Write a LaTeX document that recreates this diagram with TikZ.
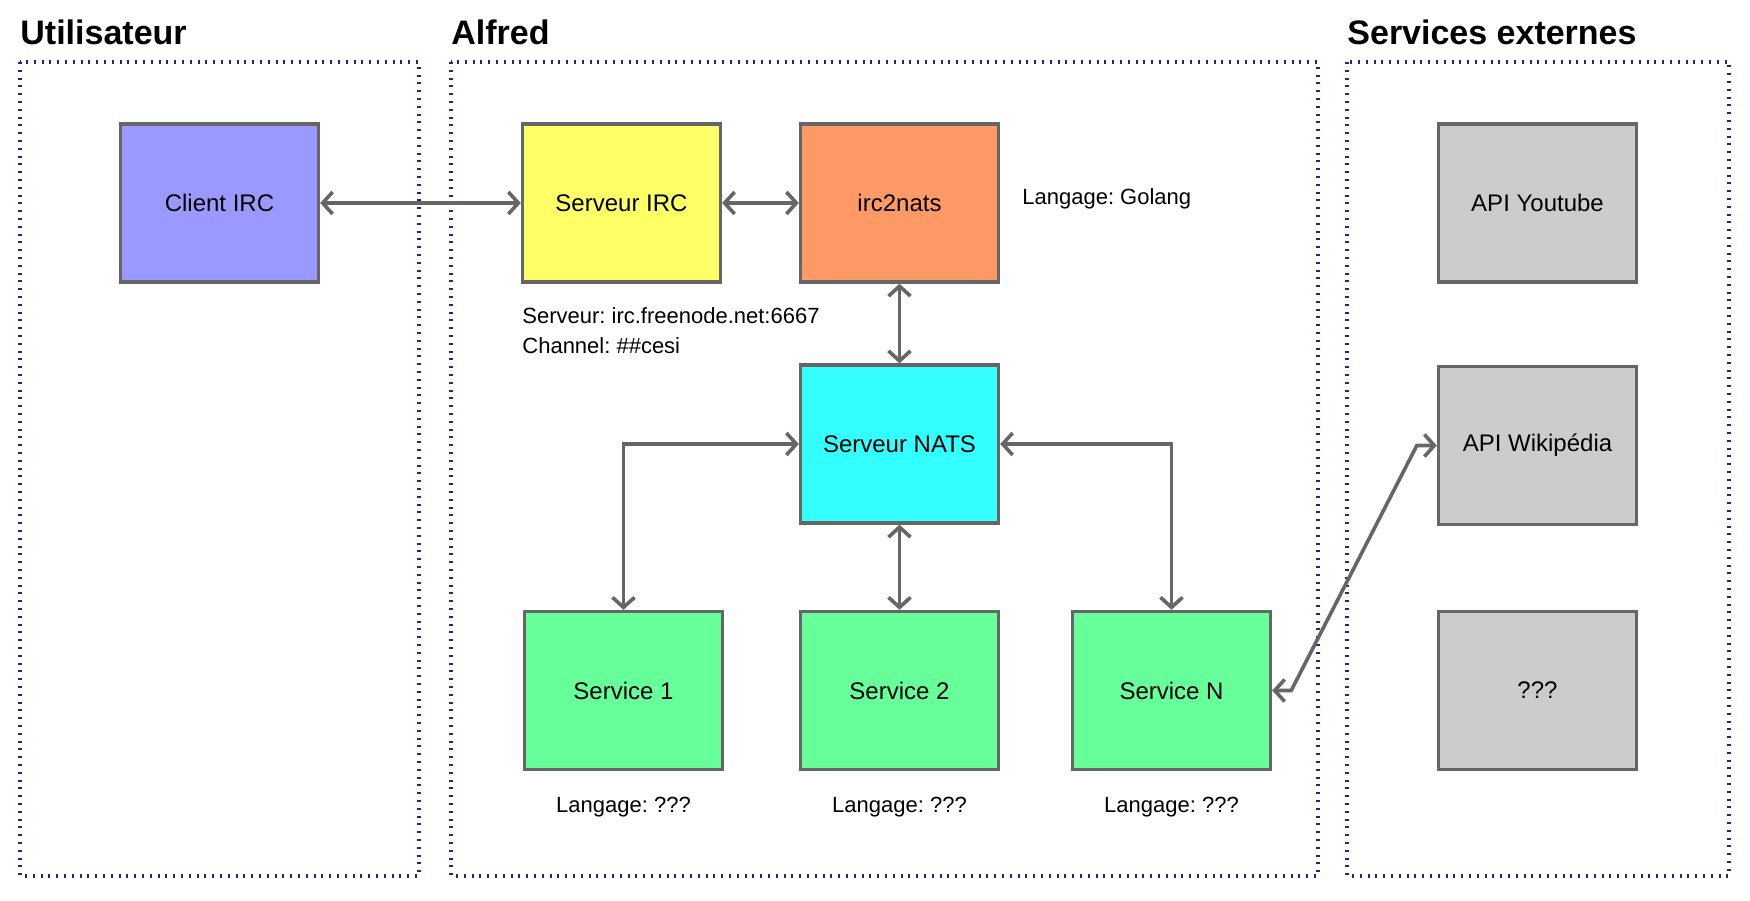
\documentclass[tikz,border=0pt]{standalone}
\usepackage{fontspec}
\setmainfont{Liberation Sans}
\usetikzlibrary{arrows.meta}
\frenchspacing
\definecolor{zoneblue}{RGB}{30,40,125}
\definecolor{edgegray}{HTML}{666666}
\definecolor{clientcol}{HTML}{9999FF}
\definecolor{irccol}{HTML}{FFFF66}
\definecolor{natscol}{HTML}{FF9966}
\definecolor{buscol}{HTML}{33FFFF}
\definecolor{svccol}{HTML}{66FF99}
\definecolor{apicol}{HTML}{CCCCCC}
\tikzset{
  box/.style={draw=edgegray,line width=1.7pt,minimum width=99pt,minimum height=79pt,
    font=\fontsize{12}{14}\selectfont},
  note/.style={font=\fontsize{11}{15}\selectfont,inner sep=0pt},
  zonetitle/.style={font=\fontsize{17}{20}\selectfont\bfseries,inner sep=0pt,anchor=west},
  zone/.style={draw=zoneblue,line width=1.8pt,dash pattern=on 1pt off 2.9pt},
  link/.style={draw=edgegray,line width=1.8pt,
    {Straight Barb[length=5pt,width=11pt]}-{Straight Barb[length=5pt,width=11pt]}}
}
\begin{document}
\begin{tikzpicture}[x=0.5pt,y=-0.5pt]
\useasboundingbox (0,0) rectangle (1750,900);

\draw[zone] (20,62) rectangle (419,876);
\draw[zone] (451,62) rectangle (1318,876);
\draw[zone] (1347,62) rectangle (1729,876);
\node[zonetitle] (tuser) at (20,32) {Utilisateur};
\node[zonetitle] (talfred) at (451,32) {Alfred};
\node[zonetitle] (text) at (1347,32) {Services externes};

\node[box,fill=clientcol] (client) at (219.5,203) {Client IRC};
\node[box,fill=irccol] (sirc) at (621.5,203) {Serveur IRC};
\node[box,fill=natscol] (i2n) at (899.5,203) {irc2nats};
\node[box,fill=buscol] (nats) at (899.5,444) {Serveur NATS};
\node[box,fill=svccol] (s1) at (623.5,690.5) {Service 1};
\node[box,fill=svccol] (s2) at (899.5,690.5) {Service 2};
\node[box,fill=svccol] (sN) at (1171.5,690.5) {Service N};
\node[box,fill=apicol] (yt) at (1537.5,203) {API Youtube};
\node[box,fill=apicol] (wiki) at (1537.5,445.5) {API Wikipédia};
\node[box,fill=apicol] (other) at (1537.5,690.5) {???};

\node[note,anchor=west,align=left] (ircinfo) at (522,331) {Serveur: irc.freenode.net:6667\\Channel: \#\#cesi};
\node[note,anchor=west] (golang) at (1022,199) {Langage: Golang};
\foreach \s in {s1,s2,sN}
  \node[note] (lang\s) at ([yshift=-18pt]\s.south) {Langage: ???};

\draw[link] (client) -- (sirc);
\draw[link] (sirc) -- (i2n);
\draw[link] (i2n) -- (nats);
\draw[link] (nats) -- (s2);
\draw[link] (nats.west) -| (s1.north);
\draw[link] (nats.east) -| (sN.north);
\draw[link] (sN.east) -- ++(19,0) -- ([xshift=-10pt]wiki.west) -- (wiki.west);
\end{tikzpicture}
\end{document}
